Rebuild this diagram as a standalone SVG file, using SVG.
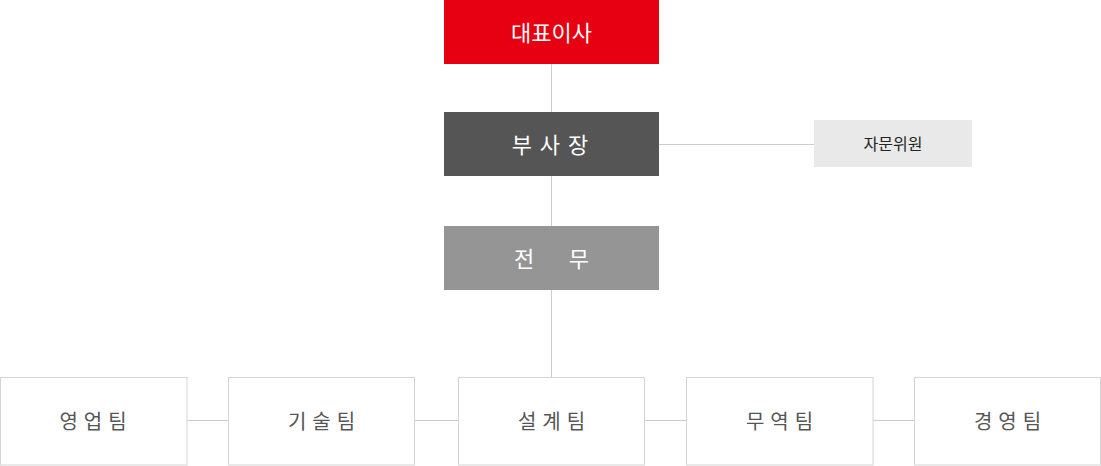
<svg xmlns="http://www.w3.org/2000/svg" width="1101" height="466" viewBox="0 0 1101 466">
<style>
text{font-family:"Noto Sans CJK KR","Noto Sans",sans-serif;text-anchor:middle;dominant-baseline:central}
.top{font-size:22px;fill:#fff}
.team rect{fill:#fff;stroke:#d4d4d4;stroke-width:1}
.team text{font-size:20px;fill:#555;letter-spacing:6px}
.conn line{stroke:#ccc;stroke-width:1}
</style>
<rect width="1101" height="466" fill="#fff"/>
<g class="conn">
<line x1="551.5" y1="64" x2="551.5" y2="377"/>
<line x1="659" y1="144.5" x2="814" y2="144.5"/>
<line x1="187" y1="420.5" x2="228" y2="420.5"/>
<line x1="415" y1="420.5" x2="458" y2="420.5"/>
<line x1="645" y1="420.5" x2="686" y2="420.5"/>
<line x1="873" y1="420.5" x2="914" y2="420.5"/>
</g>
<g id="ceo"><rect x="444" y="0" width="215" height="64" fill="#e60012"/><text class="top" x="551.5" y="31">대표이사</text></g>
<g id="vp"><rect x="444" y="112" width="215" height="64" fill="#555"/><text class="top" x="554" y="143" style="letter-spacing:8px">부사장</text></g>
<g id="advisor"><rect x="814" y="120" width="158" height="47" fill="#e9e9e9"/><text x="893" y="143" style="font-size:16px;fill:#222">자문위원</text></g>
<g id="director"><rect x="444" y="226" width="215" height="64" fill="#959595"/><text class="top" x="551.5" y="257" xml:space="preserve">전       무</text></g>
<g id="sales" class="team"><rect x="0.5" y="377.5" width="186.5" height="87.5"/><text x="96" y="420">영업팀</text></g>
<g id="tech" class="team"><rect x="228.5" y="377.5" width="186" height="87.5"/><text x="324.5" y="420">기술팀</text></g>
<g id="design" class="team"><rect x="458.5" y="377.5" width="186" height="87.5"/><text x="554.5" y="420">설계팀</text></g>
<g id="trade" class="team"><rect x="686.5" y="377.5" width="186.5" height="87.5"/><text x="782.5" y="420">무역팀</text></g>
<g id="mgmt" class="team"><rect x="914.5" y="377.5" width="186" height="87.5"/><text x="1010.5" y="420">경영팀</text></g>
</svg>
